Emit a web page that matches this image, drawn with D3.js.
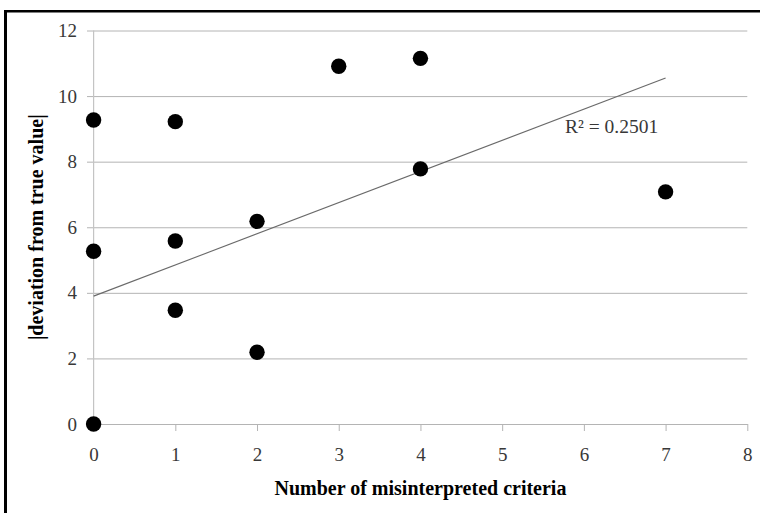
<!DOCTYPE html>
<html>
<head>
<meta charset="utf-8">
<script src="https://cdn.jsdelivr.net/npm/d3@7/dist/d3.min.js"></script>
<style>
  html, body { margin: 0; padding: 0; background: #fff; }
  svg { display: block; }
</style>
</head>
<body>
<svg id="chart" width="760" height="513"></svg>
<script>
// Scatter of misinterpreted criteria vs. absolute deviation, with a linear trend
const xTicks = [0, 1, 2, 3, 4, 5, 6, 7, 8];
const yTicks = [0, 2, 4, 6, 8, 10, 12];
const misinterpreted = [0, 0, 0, 1, 1, 1, 2, 2, 3, 4, 4, 7];
const deviation = [0, 5.27, 9.27, 3.47, 5.58, 9.22, 2.19, 6.18, 10.91, 11.15, 7.78, 7.08];
const trendIntercept = 3.9;
const trendSlope = 0.95;
const trendSpan = [0, 7];
const rSquaredLabel = "R\u00B2 = 0.2501";
const xTitle = "Number of misinterpreted criteria";
const yTitle = "|deviation from true value|";

const svg = d3.select("#chart");
const font = "'Liberation Serif', 'Times New Roman', serif";

const x = d3.scaleLinear().domain([0, 8]).range([93.6, 747.3]);
const y = d3.scaleLinear().domain([0, 12]).range([424, 30.5]);

// frame edges
svg.append("rect").attr("x", 4).attr("y", 10).attr("width", 3).attr("height", 503).attr("fill", "#000");
svg.append("rect").attr("x", 4).attr("y", 10).attr("width", 756).attr("height", 2.5).attr("fill", "#000");

// horizontal gridlines with left tick stubs and value labels
const yAxis = d3.axisLeft(y)
  .tickValues(yTicks)
  .tickSizeInner(-(x.range()[1] - 87))
  .tickSizeOuter(0)
  .tickPadding(10)
  .tickFormat(d3.format("d"));
const gy = svg.append("g").attr("transform", "translate(87,0)").call(yAxis);
gy.select(".domain").remove();
gy.selectAll(".tick line").attr("stroke", "#b4b4b4").attr("stroke-width", 1);
gy.selectAll(".tick text")
  .attr("fill", "#383838").style("font-family", font).style("font-size", "19px");

// vertical value axis line
svg.append("line")
  .attr("x1", x(0)).attr("x2", x(0))
  .attr("y1", y(12)).attr("y2", y(0))
  .attr("stroke", "#c4c4c4").attr("stroke-width", 1.2);

// category axis
const xAxis = d3.axisBottom(x)
  .tickValues(xTicks)
  .tickSizeInner(7)
  .tickSizeOuter(0)
  .tickPadding(16.5)
  .tickFormat(d3.format("d"));
const gx = svg.append("g").attr("transform", `translate(0,${y(0)})`).call(xAxis);
gx.select(".domain").attr("stroke", "#b4b4b4").attr("stroke-width", 1.2);
gx.selectAll(".tick line").attr("stroke", "#b4b4b4");
gx.selectAll(".tick text")
  .attr("fill", "#383838").style("font-family", font).style("font-size", "19px");

// linear trend line
svg.append("line")
  .attr("x1", x(trendSpan[0])).attr("y1", y(trendIntercept + trendSlope * trendSpan[0]))
  .attr("x2", x(trendSpan[1])).attr("y2", y(trendIntercept + trendSlope * trendSpan[1]))
  .attr("stroke", "#6a6a6a").attr("stroke-width", 1.1);

// data points
svg.append("g").selectAll("circle")
  .data(misinterpreted.map((v, i) => [v, deviation[i]]))
  .join("circle")
  .attr("cx", d => x(d[0]))
  .attr("cy", d => y(d[1]))
  .attr("r", 7.7)
  .attr("fill", "#000");

// fit label
svg.append("text")
  .attr("x", 565).attr("y", 133)
  .attr("fill", "#383838")
  .style("font-family", font).style("font-size", "19.5px")
  .text(rSquaredLabel);

// axis titles
svg.append("text")
  .attr("x", (x.range()[0] + x.range()[1]) / 2).attr("y", 495)
  .attr("text-anchor", "middle")
  .attr("fill", "#000")
  .style("font-family", font).style("font-size", "20px").style("font-weight", "bold")
  .text(xTitle);

svg.append("text")
  .attr("transform", `translate(43,${(y.range()[0] + y.range()[1]) / 2}) rotate(-90)`)
  .attr("text-anchor", "middle")
  .attr("fill", "#000")
  .style("font-family", font).style("font-size", "20px").style("font-weight", "bold")
  .text(yTitle);
</script>
</body>
</html>
